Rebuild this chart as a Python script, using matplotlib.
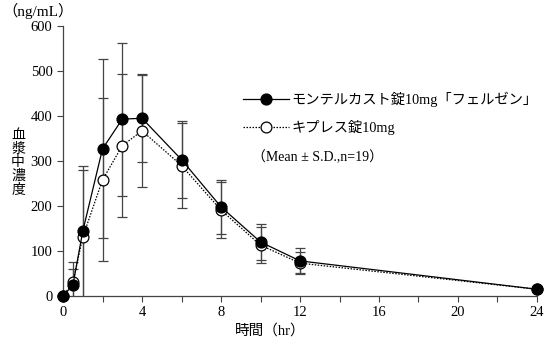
import matplotlib.pyplot as plt
from matplotlib.lines import Line2D

plt.switch_backend('agg')
plt.rcParams['font.family'] = ['Liberation Serif', 'Noto Sans CJK JP', 'DejaVu Sans']

# 時間 (hr)
time = [0, 0.5, 1, 2, 3, 4, 6, 8, 10, 12, 24]

# モンテルカスト錠10mg「フェルゼン」
ferzen_mean = [0, 24, 144, 327, 393, 395, 303, 198, 120, 78, 15]
ferzen_sd = [0, 36, 146, 199, 170, 98, 86, 60, 40, 28, 0]

# キプレス錠10mg
kipres_mean = [0, 30, 131, 258, 334, 367, 290, 191, 113, 73, 15]
kipres_sd = [0, 46, 149, 181, 159, 125, 95, 62, 40, 24, 0]

label_ferzen = 'モンテルカスト錠10mg「フェルゼン」'
label_kipres = 'キプレス錠10mg'

x_ticks = [0, 4, 8, 12, 16, 20, 24]
y_ticks = [0, 100, 200, 300, 400, 500, 600]


def main():
    fig = plt.figure(figsize=(5.47, 3.53), dpi=100)
    ax = fig.add_axes([0.1152, 0.1615, 0.8665, 0.7648])

    ax.errorbar(time, kipres_mean, yerr=kipres_sd, fmt='none', ecolor='#444444',
                elinewidth=0.9, capsize=3.5, capthick=0.9)
    ax.errorbar(time, ferzen_mean, yerr=ferzen_sd, fmt='none', ecolor='#444444',
                elinewidth=0.9, capsize=3.5, capthick=0.9)

    ax.plot(time, kipres_mean, linestyle=(0, (1.2, 1.2)), color='black', linewidth=0.9,
            marker='o', markersize=7.8, markerfacecolor='white', markeredgecolor='black',
            markeredgewidth=0.9, clip_on=False, zorder=3)
    ax.plot(time, ferzen_mean, linestyle='-', color='black', linewidth=0.9,
            marker='o', markersize=7.8, markerfacecolor='black', markeredgecolor='black',
            clip_on=False, zorder=4)

    ax.set_xlim(0, 24)
    ax.set_ylim(0, 600)
    ax.set_xticks(x_ticks)
    ax.set_xticks([2, 6, 10, 14, 18, 22], minor=True)
    ax.set_yticks(y_ticks)
    ax.tick_params(axis='both', labelsize=10.5, length=4, width=0.8, color='#444444')
    ax.tick_params(axis='x', which='minor', length=4, width=0.8, color='#444444')
    ax.spines['top'].set_visible(False)
    ax.spines['right'].set_visible(False)
    for side in ['left', 'bottom']:
        ax.spines[side].set_linewidth(0.9)
        ax.spines[side].set_color('#444444')

    handles = [
        Line2D([], [], linestyle='-', color='black', linewidth=0.9, marker='o',
               markersize=7.8, markerfacecolor='black'),
        Line2D([], [], linestyle=(0, (1.2, 1.2)), color='black', linewidth=0.9, marker='o',
               markersize=7.8, markerfacecolor='white', markeredgewidth=0.9),
    ]
    ax.legend(handles, [label_ferzen, label_kipres], frameon=False, fontsize=10.3,
              handlelength=3.2, handletextpad=0.2, labelspacing=0.9,
              loc='upper left', bbox_to_anchor=(0.365, 0.782), borderpad=0)

    fig.text(252 / 547, 1 - 157 / 353, '（Mean ± S.D.,n=19）', fontsize=10,
             ha='left', va='center')
    fig.text(2 / 547, 1 - 11 / 353, '（ng/mL）', fontsize=11, ha='left', va='center')
    fig.text(18 / 547, 1 - 163 / 353, '血\n漿\n中\n濃\n度', fontsize=10,
             ha='center', va='center', linespacing=1.05)
    fig.text(270 / 547, 1 - 331 / 353, '時間（hr）', fontsize=10.5, ha='center', va='center')

    fig.savefig('out.png', dpi=100)
    plt.close(fig)


if __name__ == "__main__":
    main()
